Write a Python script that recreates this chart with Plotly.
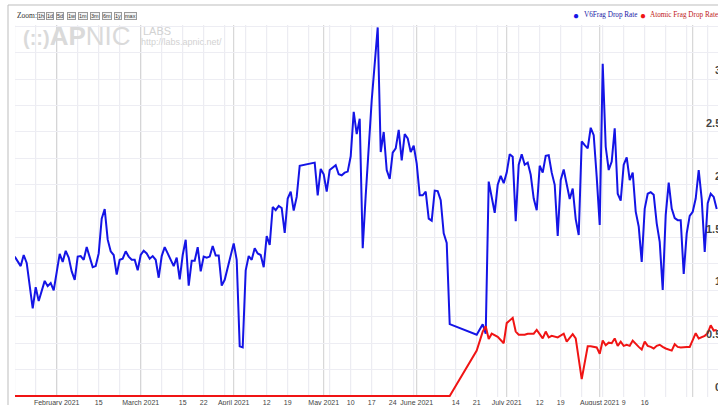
import pandas as pd
import plotly.graph_objects as go

# ---------------- data ----------------
blue_dates = [
    "2021-01-18", "2021-01-20", "2021-01-21", "2021-01-22", "2021-01-24", "2021-01-25", "2021-01-26",
    "2021-01-28", "2021-01-29", "2021-01-30", "2021-01-31",
    "2021-02-02", "2021-02-03", "2021-02-04", "2021-02-05", "2021-02-06", "2021-02-07", "2021-02-08",
    "2021-02-09", "2021-02-10", "2021-02-11", "2021-02-13", "2021-02-14", "2021-02-15", "2021-02-16",
    "2021-02-17", "2021-02-18", "2021-02-19", "2021-02-20", "2021-02-21", "2021-02-22", "2021-02-23",
    "2021-02-24", "2021-02-25", "2021-02-26", "2021-02-27", "2021-02-28",
    "2021-03-01", "2021-03-02", "2021-03-03", "2021-03-04", "2021-03-05", "2021-03-06", "2021-03-07",
    "2021-03-08", "2021-03-09", "2021-03-10", "2021-03-11", "2021-03-12", "2021-03-13", "2021-03-14",
    "2021-03-15", "2021-03-16", "2021-03-17", "2021-03-18", "2021-03-19", "2021-03-20", "2021-03-21",
    "2021-03-22", "2021-03-23", "2021-03-24", "2021-03-25", "2021-03-26", "2021-03-27", "2021-03-28",
    "2021-03-29", "2021-03-30",
    "2021-04-01", "2021-04-02", "2021-04-03", "2021-04-04", "2021-04-05", "2021-04-06", "2021-04-07",
    "2021-04-08", "2021-04-09", "2021-04-10", "2021-04-11", "2021-04-12", "2021-04-13", "2021-04-14",
    "2021-04-15", "2021-04-16", "2021-04-17", "2021-04-18", "2021-04-19", "2021-04-20", "2021-04-21",
    "2021-04-22", "2021-04-23", "2021-04-28", "2021-04-29", "2021-04-30",
    "2021-05-01", "2021-05-02", "2021-05-03", "2021-05-05", "2021-05-06", "2021-05-07", "2021-05-08",
    "2021-05-09", "2021-05-10", "2021-05-11", "2021-05-12", "2021-05-13", "2021-05-14", "2021-05-15",
    "2021-05-16", "2021-05-17", "2021-05-19", "2021-05-20", "2021-05-21", "2021-05-22", "2021-05-23",
    "2021-05-24", "2021-05-25", "2021-05-26", "2021-05-27", "2021-05-28", "2021-05-29", "2021-05-30",
    "2021-05-31",
    "2021-06-01", "2021-06-02", "2021-06-03", "2021-06-04", "2021-06-05", "2021-06-06", "2021-06-07",
    "2021-06-08", "2021-06-09", "2021-06-10", "2021-06-11", "2021-06-12", "2021-06-21", "2021-06-23",
    "2021-06-24", "2021-06-25", "2021-06-26", "2021-06-27", "2021-06-28", "2021-06-29", "2021-06-30",
    "2021-07-01", "2021-07-02", "2021-07-03", "2021-07-04", "2021-07-05", "2021-07-06", "2021-07-07",
    "2021-07-08", "2021-07-09", "2021-07-10", "2021-07-11", "2021-07-12", "2021-07-13", "2021-07-14",
    "2021-07-15", "2021-07-16", "2021-07-17", "2021-07-18", "2021-07-19", "2021-07-20", "2021-07-21",
    "2021-07-22", "2021-07-23", "2021-07-24", "2021-07-25", "2021-07-26", "2021-07-27", "2021-07-28",
    "2021-07-29", "2021-07-30", "2021-07-31",
    "2021-08-01", "2021-08-02", "2021-08-03", "2021-08-04", "2021-08-05", "2021-08-06", "2021-08-07",
    "2021-08-08", "2021-08-09", "2021-08-10", "2021-08-11", "2021-08-12", "2021-08-13", "2021-08-14",
    "2021-08-15", "2021-08-16", "2021-08-17", "2021-08-18", "2021-08-19", "2021-08-20", "2021-08-21",
    "2021-08-22", "2021-08-23", "2021-08-24", "2021-08-25", "2021-08-26", "2021-08-27", "2021-08-28",
    "2021-08-29", "2021-08-30", "2021-08-31",
    "2021-09-01", "2021-09-02", "2021-09-03", "2021-09-04", "2021-09-05", "2021-09-06", "2021-09-07",
    "2021-09-08", "2021-09-09",
]
blue_values = [
    1.32, 1.23, 1.335, 1.26, 0.83, 1.03, 0.90, 1.09, 1.04, 1.07, 1.00,
    1.345, 1.27, 1.375, 1.31, 1.18, 1.10, 1.32, 1.325, 1.29, 1.41, 1.22, 1.23, 1.35, 1.68, 1.77,
    1.48, 1.37, 1.335, 1.15, 1.29, 1.30, 1.37, 1.32, 1.29, 1.29, 1.19,
    1.335, 1.375, 1.35, 1.30, 1.325, 1.29, 1.12, 1.325, 1.41, 1.35, 1.29, 1.23, 1.31, 1.105,
    1.335, 1.48, 1.045, 1.28, 1.28, 1.41, 1.18, 1.32, 1.31, 1.32, 1.42, 1.33, 1.33, 1.045, 1.10, 1.21,
    1.445, 1.29, 0.47, 0.46, 1.19, 1.325, 1.29, 1.40, 1.35, 1.335, 1.22, 1.515, 1.43, 1.79,
    1.76, 1.80, 1.78, 1.545, 1.87, 1.935, 1.755, 1.885, 2.18, 2.21, 1.90, 2.15,
    2.10, 1.935, 2.14, 2.185, 2.10, 2.09, 2.115, 2.125, 2.27, 2.69, 2.48, 2.625, 1.40, 1.90,
    2.36, 2.80, 3.49, 2.31, 2.50, 2.14, 2.055, 2.305, 2.345, 2.52, 2.23, 2.48, 2.44, 2.31, 2.37,
    2.20, 1.90, 1.90, 1.935, 1.68, 1.66, 1.945, 1.94, 1.855, 1.54, 1.45, 0.68, 0.58, 0.68,
    0.59, 2.03, 1.89, 1.735, 2.00, 2.085, 2.015,
    2.115, 2.29, 2.265, 1.655, 2.19, 2.29, 2.19, 2.21, 2.095, 1.87, 1.76, 2.18, 2.115, 2.275,
    2.28, 2.115, 2.00, 1.515, 2.045, 2.145, 2.02, 1.865, 1.965, 1.675, 1.525, 2.41, 2.375, 2.345,
    2.54, 2.47, 2.075,
    1.62, 3.145, 2.36, 2.14, 2.22, 2.535, 1.915, 1.85, 2.19, 2.26, 2.045, 2.115, 1.745, 1.605,
    1.27, 1.775, 1.915, 1.93, 1.905, 1.635, 1.46, 1.005, 1.715, 2.02, 1.775, 1.685, 1.665, 1.665,
    1.155, 1.54, 1.705,
    1.745, 1.87, 2.14, 1.865, 1.365, 1.825, 1.915, 1.885, 1.77,
]

red_dates = [
    "2021-01-18", "2021-06-12", "2021-06-21", "2021-06-23", "2021-06-24", "2021-06-25", "2021-06-26",
    "2021-06-28", "2021-06-30", "2021-07-01", "2021-07-03", "2021-07-04", "2021-07-05", "2021-07-07",
    "2021-07-08", "2021-07-10", "2021-07-11", "2021-07-12", "2021-07-13", "2021-07-14", "2021-07-15",
    "2021-07-16", "2021-07-17", "2021-07-18", "2021-07-20", "2021-07-21", "2021-07-23", "2021-07-24",
    "2021-07-26", "2021-07-28", "2021-07-29", "2021-07-31", "2021-08-01", "2021-08-02", "2021-08-03",
    "2021-08-04", "2021-08-05", "2021-08-06", "2021-08-07", "2021-08-08", "2021-08-09", "2021-08-10",
    "2021-08-11", "2021-08-12", "2021-08-14", "2021-08-15", "2021-08-16", "2021-08-17", "2021-08-18",
    "2021-08-19", "2021-08-20", "2021-08-21", "2021-08-22", "2021-08-23", "2021-08-25", "2021-08-26",
    "2021-08-27", "2021-08-28", "2021-08-30", "2021-08-31", "2021-09-01", "2021-09-02", "2021-09-03",
    "2021-09-04", "2021-09-05", "2021-09-06", "2021-09-07", "2021-09-08", "2021-09-09",
]
red_values = [
    0, 0, 0.43, 0.61, 0.66, 0.54, 0.59,
    0.56, 0.50, 0.69, 0.74, 0.61, 0.58, 0.58,
    0.59, 0.59, 0.625, 0.59, 0.545, 0.61, 0.555,
    0.57, 0.56, 0.555, 0.59, 0.515, 0.585, 0.545,
    0.16, 0.47, 0.47, 0.46, 0.40, 0.525, 0.48,
    0.505, 0.50, 0.545, 0.475, 0.515, 0.475, 0.485,
    0.475, 0.525, 0.465, 0.44, 0.515, 0.475, 0.465,
    0.45, 0.475, 0.485, 0.465, 0.45, 0.43, 0.49,
    0.465, 0.46, 0.465, 0.465, 0.53, 0.595, 0.545,
    0.56, 0.57, 0.595, 0.67, 0.62, 0.625,
]

tick_dates = [
    "2021-02-01", "2021-02-15", "2021-03-01", "2021-03-15", "2021-03-22", "2021-04-01", "2021-04-12",
    "2021-04-19", "2021-05-01", "2021-05-10", "2021-05-17", "2021-05-24", "2021-06-01", "2021-06-14",
    "2021-06-21", "2021-07-01", "2021-07-12", "2021-07-19", "2021-08-01", "2021-08-09", "2021-08-16",
    "2021-09-01",
]
tick_labels = [
    "February 2021", "15", "March 2021", "15", "22", "April 2021", "12",
    "19", "May 2021", "10", "17", "24", "June 2021", "14",
    "21", "July 2021", "12", "19", "August 2021", "9", "16",
    "September 2021",
]
month_starts = ["2021-02-01", "2021-03-01", "2021-04-01", "2021-05-01", "2021-06-01",
                "2021-07-01", "2021-08-01", "2021-09-01"]
y_label_values = [0, 0.5, 1, 1.5, 2, 2.5, 3]
y_label_texts = ["0", "0.5", "1", "1.5", "2", "2.5", "3"]
zoom_buttons = ["1h", "1d", "5d", "1w", "1m", "3m", "6m", "1y", "max"]
series_names = ["V6Frag Drop Rate", "Atomic Frag Drop Rate"]

# ---------------- layout geometry ----------------
W, H = 718, 405
ML, MR, MT, MB = 15, 0, 25, 8
PW, PH = W - ML - MR, H - MT - MB


def px(x):
    return (x - ML) / PW


def py(y):
    return (H - MB - y) / PH


BLUE = "#1414e6"
RED = "#f01414"
SANS = "Liberation Sans, Arial, sans-serif"
SERIF = "Liberation Serif, Times New Roman, serif"

fig = go.Figure()
fig.add_trace(go.Scatter(x=blue_dates, y=blue_values, mode="lines", name=series_names[0],
                         line=dict(color=BLUE, width=2), hoverinfo="skip"))
fig.add_trace(go.Scatter(x=red_dates, y=red_values, mode="lines", name=series_names[1],
                         line=dict(color=RED, width=2), hoverinfo="skip"))

shapes = []
# weekly (Monday) light gridlines
for d in pd.date_range("2021-01-18", "2021-09-06", freq="7D"):
    shapes.append(dict(type="line", xref="x", yref="paper", x0=d, x1=d, y0=0, y1=1,
                       layer="below", line=dict(color="#e8e8ef", width=1)))
# month gridlines (darker)
for d in month_starts:
    shapes.append(dict(type="line", xref="x", yref="paper", x0=d, x1=d, y0=0, y1=1,
                       layer="below", line=dict(color="#cfcfcf", width=1)))
# container border (top and left)
shapes.append(dict(type="line", xref="paper", yref="paper", x0=px(8), x1=px(W + 5),
                   y0=py(5), y1=py(5), line=dict(color="#bdbdbd", width=1)))
shapes.append(dict(type="line", xref="paper", yref="paper", x0=px(8), x1=px(8),
                   y0=py(5), y1=py(H + 5), line=dict(color="#bdbdbd", width=1)))

ann = []
# right-hand value labels (partly cut by the window edge)
for v, t in zip(y_label_values, y_label_texts):
    ann.append(dict(xref="paper", yref="y", x=px(723), y=v, yshift=9, text=t, showarrow=False,
                    xanchor="right", yanchor="middle",
                    font=dict(family=SANS, size=11, color="#444444", weight="bold")))

# watermark
ann.append(dict(xref="paper", yref="paper", x=px(21), y=py(36),
                text='<span style="font-size:20px"><b>(::)</b></span><b>AP</b>NIC',
                showarrow=False, xanchor="left", yanchor="middle",
                font=dict(family=SANS, size=26, color="#dadada")))
ann.append(dict(xref="paper", yref="paper", x=px(141), y=py(31), text="LABS", showarrow=False,
                xanchor="left", yanchor="middle", font=dict(family=SANS, size=11, color="#d2d2d2")))
ann.append(dict(xref="paper", yref="paper", x=px(139), y=py(42.5), text="http://labs.apnic.net/",
                showarrow=False, xanchor="left", yanchor="middle",
                font=dict(family=SANS, size=9, color="#d2d2d2")))

# zoom bar
ann.append(dict(xref="paper", yref="paper", x=px(15), y=py(15.7), text="Zoom:", showarrow=False,
                xanchor="left", yanchor="middle", font=dict(family=SERIF, size=7.5, color="#333333")))
button_x = [41.3, 50.3, 60.2, 71.3, 83.3, 95.0, 107.0, 118.2, 130.3]
for bx, b in zip(button_x, zoom_buttons):
    ann.append(dict(xref="paper", yref="paper", x=px(bx), y=py(15.7), text=b, showarrow=False,
                    xanchor="center", yanchor="middle", bgcolor="#f3f3f3", bordercolor="#9a9a9a",
                    borderwidth=1, borderpad=0,
                    font=dict(family=SANS, size=5.5, color="#333333")))

# legend
for dx, tx, name, col, tcol in [(575.5, 581.5, series_names[0], BLUE, "#1a1aa6"),
                               (642.7, 648.0, series_names[1], RED, "#c01818")]:
    ann.append(dict(xref="paper", yref="paper", x=px(dx), y=py(15.5), text="\u25CF", showarrow=False,
                    xanchor="center", yanchor="middle", font=dict(family=SANS, size=10, color=col)))
    ann.append(dict(xref="paper", yref="paper", x=px(tx), y=py(15.5), text=name, showarrow=False,
                    xanchor="left", yanchor="middle", font=dict(family=SERIF, size=7.2, color=tcol)))

fig.update_layout(
    width=W, height=H,
    margin=dict(l=ML, r=MR, t=MT, b=MB, pad=0),
    paper_bgcolor="white", plot_bgcolor="white",
    showlegend=False,
    shapes=shapes,
    annotations=ann,
    xaxis=dict(type="date", range=["2021-01-18 02:24", "2021-09-09 10:19"],
               tickmode="array", tickvals=tick_dates, ticktext=tick_labels,
               showgrid=False, zeroline=False, showline=False, ticks="",
               tickfont=dict(family=SANS, size=7, color="#444444"), automargin=False),
    yaxis=dict(range=[-0.0095, 3.513], tick0=0, dtick=0.25, showgrid=True, gridcolor="#ededf3",
               gridwidth=1, zeroline=False, showline=False, showticklabels=False, ticks="",
               automargin=False),
)

fig.write_html("out.html", config={"displayModeBar": False},
               post_script="document.body.style.margin='0';")
